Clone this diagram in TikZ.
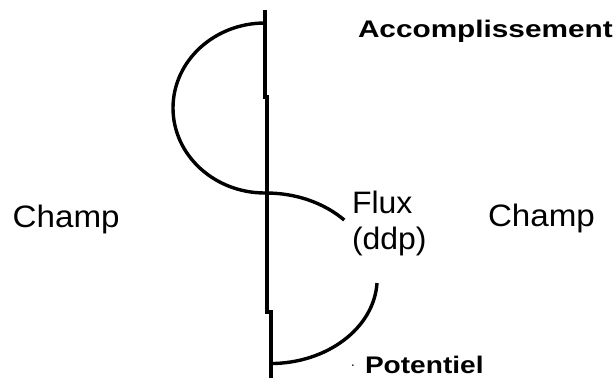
\documentclass[tikz,border=0pt]{standalone}
\usepackage{fontspec}
\setmainfont{Liberation Sans}
\begin{document}
\begin{tikzpicture}[x=1pt,y=-1pt,
  axis/.style={line width=4pt,line cap=butt,line join=miter},
  stroke/.style={line width=3.4pt,line cap=butt},
  label/.style={anchor=base west,inner sep=0pt,outer sep=0pt,font=\fontsize{31}{31}\selectfont},
  boldlabel/.style={anchor=base west,inner sep=0pt,outer sep=0pt,font=\fontsize{24}{24}\selectfont\bfseries}]
\useasboundingbox (0,0) rectangle (616,378);

% central axis, drawn in three slightly offset pieces
\coordinate (axtop) at (264.8,10);
\coordinate (axk1) at (264.8,97);
\coordinate (axk2) at (267.4,97);
\coordinate (axk3) at (267.4,312);
\coordinate (axk4) at (270.6,312);
\coordinate (axbot) at (270.6,378);
\draw[axis] (axtop) -- (axk1) -- (axk2) -- (axk3) -- (axk4) -- (axbot);

% upper half-loop, on the left of the axis
\coordinate (uptop) at (265,23);
\draw[stroke] (uptop) arc[start angle=270,end angle=90,x radius=92,y radius=85];

% lower loop, on the right of the axis, open where the label sits
\coordinate (lowtop) at (266,193);
\coordinate (lowright) at (377,283);
\draw[stroke] (lowtop) arc[start angle=-90,end angle=-43,x radius=107,y radius=85];
\draw[stroke] (lowright) arc[start angle=3,end angle=90,x radius=107,y radius=85];

% labels
\node[boldlabel] (acc) at (358,37) {\scalebox{1.24}[1]{Accomplissement}};
\node[boldlabel] (pot) at (365,373.5) {\scalebox{1.17}[1]{Potentiel}};
\node[anchor=base,inner sep=0pt,font=\fontsize{14}{14}\selectfont] (dot) at (353,369) {·};
\node[label] (champl) at (12.7,227) {\scalebox{1.07}[1]{Champ}};
\node[label] (champr) at (488,226) {\scalebox{1.07}[1]{Champ}};
\node[label] (flux) at (352,213) {\scalebox{1.03}[1]{Flux}};
\node[label] (ddp) at (352,249) {\scalebox{1.03}[1]{(ddp)}};
\end{tikzpicture}
\end{document}
